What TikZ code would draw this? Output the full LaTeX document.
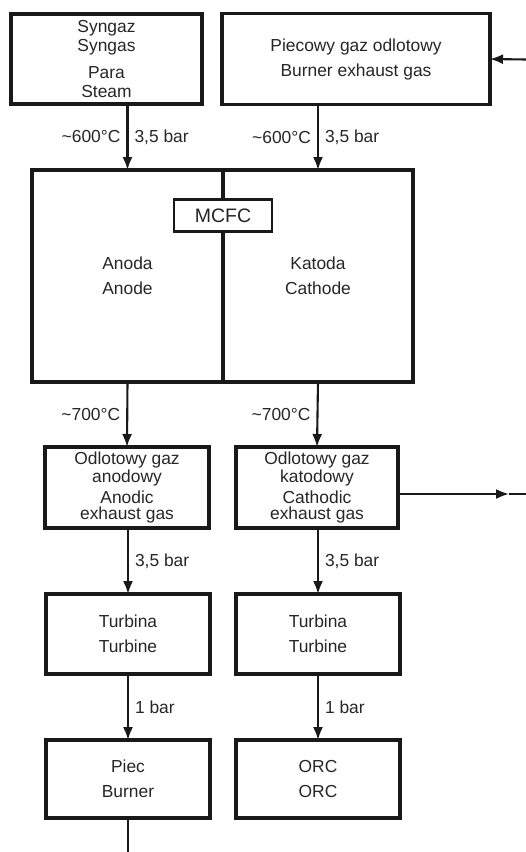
\documentclass[tikz,border=0pt]{standalone}
\usepackage{fontspec}
\setmainfont{Liberation Sans}
\usetikzlibrary{arrows.meta,positioning}

\begin{document}
\begin{tikzpicture}[x=1pt, y=-1pt,
  font=\fontsize{17.4}{19}\selectfont, text=black!85,
  unit/.style={draw=black!90, line width=3.2pt, align=center, outer sep=0pt,
    minimum width=164pt, minimum height=80pt, inner sep=0pt},
  cell/.style={unit, minimum width=191pt, minimum height=212pt},
  flow/.style={-{Latex[length=13pt,width=10pt]}, line width=2.1pt, draw=black!90},
  note/.style={inner sep=6pt}]
\useasboundingbox (0,0) rectangle (526,852);
% inlets
\node (syn) [unit, minimum width=191pt, minimum height=90pt] at (106.5,59)
  {Syngaz\\Syngas\\[8pt]Para\\Steam};
\node (bur) [unit, minimum width=268pt, minimum height=91pt, right=20pt of syn]
  {Piecowy gaz odlotowy\\[6pt]Burner exhaust gas};
% fuel cell
\node (anc) [cell] at (127.5,276) {Anoda\\[6pt]Anode};
\node (cac) [cell, minimum width=190pt, anchor=west] at (anc.east)
  {Katoda\\[6pt]Cathode};
\node (mcfc) [unit, line width=2.2pt, minimum width=98pt, minimum height=32pt,
  fill=white, font=\fontsize{19.5}{21}\selectfont] at (223,215.5) {MCFC};
% exhaust and turbines
\node (ano) [unit, minimum height=81pt, font=\fontsize{17.4}{16}\selectfont]
  at (127,487.5) {Odlotowy gaz\\anodowy\\[4pt]Anodic\\exhaust gas};
\node (kat) [unit, minimum width=162pt, minimum height=81pt,
  font=\fontsize{17.4}{16}\selectfont]
  at (317,487.5) {Odlotowy gaz\\katodowy\\[4pt]Cathodic\\exhaust gas};
\node (tu1) [unit] at (128,634) {Turbina\\[6pt]Turbine};
\node (tu2) [unit] at (318,634) {Turbina\\[6pt]Turbine};
\node (pie) [unit, minimum height=78pt] at (128,779) {Piec\\[6pt]Burner};
\node (orc) [unit, minimum height=78pt] at (318,779) {ORC\\[6pt]ORC};
\coordinate (fb) at (526,59.5);
\coordinate (out) at (509,494);
\coordinate (edge) at (526,494);
\coordinate (down) at (128,852);

\draw[flow] (fb) -- (bur.east);
\draw[flow] (syn.south -| anc.north) --
  node[note, left] {\textasciitilde600°C} node[note, right] {3,5 bar} (anc.north);
\draw[flow] (bur.south -| cac.north) --
  node[note, left] {\textasciitilde600°C} node[note, right] {3,5 bar} (cac.north);
\draw[flow] (anc.south) -- node[note, left] {\textasciitilde700°C} (ano.north);
\draw[flow] (cac.south) -- node[note, left] {\textasciitilde700°C} (kat.north);
\draw[flow] (kat.east |- out) -- (out);
\draw[line width=2.1pt, draw=black!90] (out) -- (edge);
\draw[flow] (ano.south -| tu1.north) -- node[note, right] {3,5 bar} (tu1.north);
\draw[flow] (kat.south -| tu2.north) -- node[note, right] {3,5 bar} (tu2.north);
\draw[flow] (tu1.south) -- node[note, right] {1 bar} (pie.north);
\draw[flow] (tu2.south) -- node[note, right] {1 bar} (orc.north);
\draw[line width=2.1pt, draw=black!90] (pie.south) -- (down);
\end{tikzpicture}
\end{document}
